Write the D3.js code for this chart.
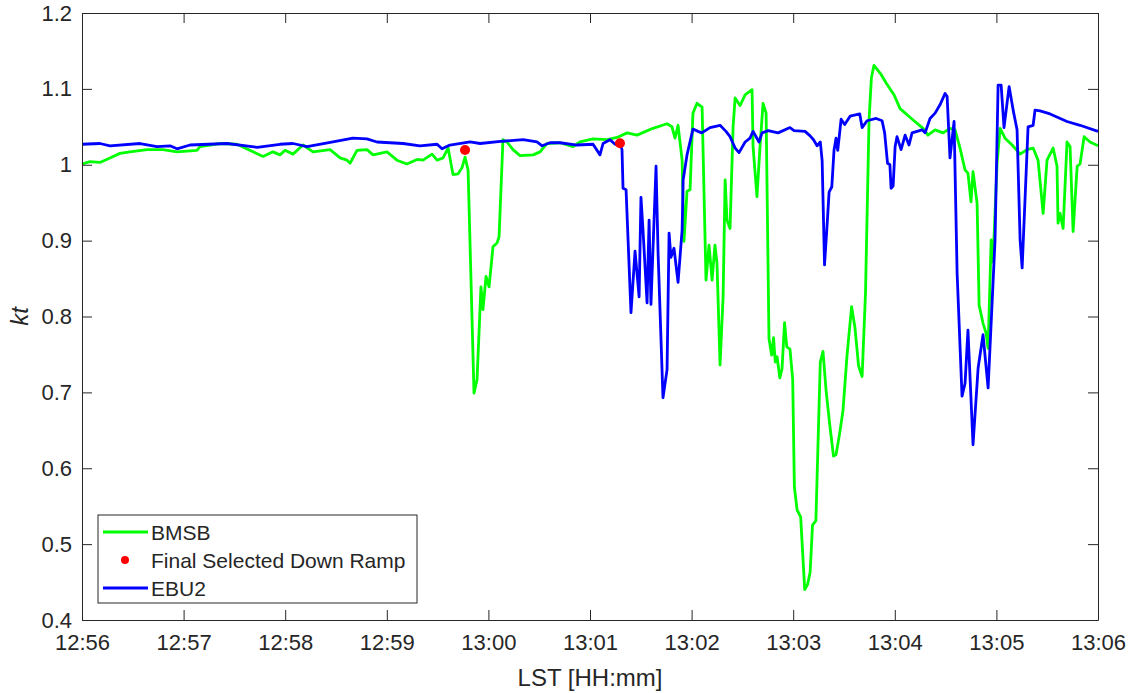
<!DOCTYPE html>
<html>
<head>
<meta charset="utf-8">
<script src="https://cdn.jsdelivr.net/npm/d3@7"></script>
<style>
  body { margin: 0; background: #fff; }
  text { font-family: "Liberation Sans", Arial, sans-serif; fill: #262626; }
</style>
</head>
<body>
<script>
// seconds after 12:56:00 and clearness index kt
var bmsbTime = [0, 4.7, 10.6, 16.5, 22.4, 28.3, 38.4, 47.8, 56.1, 67.9, 69.7, 81.5, 91.5, 101.0, 106.9, 112.8, 116.9, 119.9, 124.6, 130.5,
  136.4, 146.5, 152.4, 156.5, 158.3, 162.4, 168.3, 171.9, 180.1, 186.0, 191.9, 197.9, 201.4, 206.7, 209.7, 213.2, 216.2, 219.1, 222.1, 224.4,
  226.2, 228.0, 231.5, 233.3, 235.6, 236.8, 238.6, 240.4, 242.7, 245.1, 246.3, 248.6, 251.0, 254.5, 258.7, 266.4, 270.5, 274.6, 282.3, 290.0,
  294.1, 301.8, 310.1, 316.0, 321.9, 327.8, 337.2, 345.5, 348.4, 350.2, 352.0, 354.4, 355.5, 357.3, 359.1, 360.8, 363.2, 366.2, 368.5, 370.3,
  372.1, 373.8, 375.0, 376.8, 378.6, 379.8, 380.9, 382.7, 384.5, 385.7, 388.6, 391.6, 395.7, 396.3, 398.6, 400.4, 402.2, 404.0, 405.7, 407.3,
  408.4, 409.4, 410.5, 412.1, 413.4, 414.9, 416.2, 418.1, 419.7, 420.7, 422.3, 424.4, 426.8, 428.5, 430.0, 431.4, 433.4, 436.0, 437.6, 439.4,
  441.6, 443.8, 445.3, 447.3, 449.4, 451.8, 454.5, 456.5, 458.6, 460.7, 462.7, 464.8, 466.2, 467.7, 471.9, 474.8, 479.6, 483.1, 490.8, 496.7,
  499.6, 503.8, 508.5, 512.6, 515.6, 518.5, 521.5, 523.2, 525.0, 526.2, 528.6, 529.8, 532.1, 533.9, 535.1, 536.9, 538.0, 540.4, 542.2, 545.1,
  549.3, 554.0, 558.1, 561.7, 564.6, 567.6, 569.9, 573.5, 575.8, 576.4, 577.6, 579.4, 581.7, 583.5, 585.3, 587.7, 589.4, 591.8, 595.3, 600];
var bmsbKt = [1.001, 1.004, 1.003, 1.009, 1.015, 1.017, 1.020, 1.020, 1.017, 1.019, 1.024, 1.028, 1.027, 1.017, 1.011, 1.017, 1.013, 1.019, 1.014, 1.026,
  1.017, 1.020, 1.009, 1.006, 1.002, 1.019, 1.020, 1.013, 1.017, 1.006, 1.001, 1.007, 1.006, 1.014, 1.006, 1.009, 1.022, 0.987, 0.988, 0.996,
  1.010, 0.993, 0.699, 0.717, 0.839, 0.809, 0.853, 0.839, 0.892, 0.897, 0.905, 1.033, 1.030, 1.020, 1.012, 1.013, 1.017, 1.028, 1.029, 1.024,
  1.030, 1.034, 1.033, 1.036, 1.042, 1.039, 1.048, 1.054, 1.050, 1.035, 1.052, 1.006, 0.899, 0.965, 0.967, 1.068, 1.081, 1.076, 0.848, 0.894,
  0.848, 0.894, 0.870, 0.736, 0.826, 0.980, 0.927, 0.916, 1.050, 1.088, 1.078, 1.092, 1.099, 1.024, 0.958, 1.024, 1.081, 1.068, 0.771, 0.749,
  0.772, 0.740, 0.747, 0.719, 0.731, 0.792, 0.760, 0.757, 0.717, 0.575, 0.545, 0.536, 0.440, 0.447, 0.463, 0.525, 0.531, 0.740, 0.754, 0.703,
  0.657, 0.616, 0.618, 0.644, 0.676, 0.749, 0.813, 0.785, 0.735, 0.721, 0.831, 1.060, 1.115, 1.131, 1.119, 1.108, 1.092, 1.074, 1.059, 1.048,
  1.039, 1.046, 1.042, 1.048, 1.046, 1.022, 0.993, 0.989, 0.951, 0.991, 0.949, 0.815, 0.791, 0.778, 0.758, 0.901, 0.872, 1.002, 1.048, 1.035,
  1.026, 1.014, 1.020, 1.022, 1.006, 0.936, 1.006, 1.022, 0.998, 0.923, 0.936, 0.916, 1.030, 1.024, 0.912, 0.998, 1.001, 1.037, 1.030, 1.025];

var ebu2Time = [0, 10.6, 16.5, 34.3, 44.3, 52.0, 56.1, 63.8, 85.6, 103.4, 116.9, 124.6, 132.9, 148.2, 160.0, 168.3, 174.2, 189.6, 199.6, 209.7,
  212.6, 217.3, 229.2, 235.1, 248.6, 260.5, 268.7, 271.7, 276.4, 282.3, 292.3, 301.8, 305.9, 307.7, 311.8, 314.8, 317.7, 318.9, 319.5, 321.3,
  324.2, 326.6, 329.0, 330.1, 331.3, 333.7, 334.9, 336.0, 339.0, 340.2, 343.1, 345.5, 346.7, 347.8, 349.6, 352.0, 354.4, 355.0, 357.3, 360.8,
  363.8, 366.0, 370.9, 376.8, 380.3, 382.7, 385.7, 388.0, 391.6, 394.5, 396.3, 399.8, 401.6, 405.2, 411.1, 418.1, 420.5, 427.0, 430.0, 432.0,
  434.1, 436.0, 437.1, 438.5, 440.2, 441.2, 442.8, 444.1, 445.3, 446.3, 448.3, 450.4, 453.6, 459.3, 460.7, 463.6, 469.0, 472.5, 474.0, 475.7,
  477.1, 477.8, 479.0, 480.2, 481.3, 483.7, 486.1, 488.4, 490.2, 496.1, 497.9, 500.8, 503.8, 506.7, 509.7, 510.9, 512.6, 515.0, 516.8, 519.7,
  521.5, 523.2, 526.2, 529.2, 532.1, 535.1, 539.2, 541.0, 542.8, 544.5, 547.5, 549.9, 552.2, 554.0, 555.2, 556.9, 558.7, 561.7, 562.8, 565.8,
  571.7, 581.7, 589.4, 600];
var ebu2Kt = [1.027, 1.028, 1.025, 1.028, 1.024, 1.025, 1.021, 1.026, 1.028, 1.023, 1.027, 1.028, 1.024, 1.030, 1.035, 1.034, 1.030, 1.028, 1.025, 1.027,
  1.021, 1.026, 1.030, 1.028, 1.031, 1.033, 1.030, 1.025, 1.029, 1.029, 1.026, 1.027, 1.013, 1.028, 1.033, 1.027, 1.028, 1.020, 0.969, 0.967,
  0.805, 0.886, 0.826, 0.957, 0.914, 0.818, 0.927, 0.816, 0.998, 0.884, 0.693, 0.730, 0.910, 0.878, 0.890, 0.845, 0.914, 0.980, 1.013, 1.047,
  1.044, 1.042, 1.049, 1.052, 1.044, 1.037, 1.022, 1.016, 1.030, 1.035, 1.044, 1.030, 1.042, 1.045, 1.042, 1.049, 1.045, 1.044, 1.038, 1.033,
  1.025, 1.030, 1.005, 0.868, 0.927, 0.964, 0.971, 1.019, 1.035, 1.019, 1.060, 1.053, 1.064, 1.067, 1.049, 1.058, 1.061, 1.058, 1.042, 1.002,
  1.000, 0.969, 0.972, 1.024, 1.037, 1.020, 1.039, 1.026, 1.042, 1.046, 1.042, 1.061, 1.068, 1.079, 1.094, 1.090, 1.009, 1.057, 0.857, 0.695,
  0.712, 0.782, 0.631, 0.732, 0.776, 0.706, 0.901, 1.105, 1.105, 1.049, 1.103, 1.072, 1.046, 0.901, 0.864, 0.954, 1.050, 1.052, 1.072, 1.071,
  1.067, 1.057, 1.052, 1.044];

var rampTime = [226.2, 317.7];
var rampKt = [1.0195, 1.0283];

var yTicks = [0.4, 0.5, 0.6, 0.7, 0.8, 0.9, 1, 1.1, 1.2];
var legendNames = ["BMSB", "Final Selected Down Ramp", "EBU2"];

var width = 1133, height = 693;
var margin = {left: 82, right: 35, top: 13, bottom: 73};
var t0 = new Date(2000, 0, 1, 12, 56, 0);
function toDate(s) { return new Date(t0.getTime() + s * 1000); }

var svg = d3.select("body").append("svg")
  .attr("width", width)
  .attr("height", height);

var x = d3.scaleTime()
  .domain([toDate(0), toDate(600)])
  .range([margin.left, width - margin.right]);
var y = d3.scaleLinear()
  .domain([0.4, 1.2])
  .range([height - margin.bottom, margin.top]);

var bmsb = bmsbTime.map(function (t, i) { return {t: toDate(t), v: bmsbKt[i]}; });
var ebu2 = ebu2Time.map(function (t, i) { return {t: toDate(t), v: ebu2Kt[i]}; });
var ramps = rampTime.map(function (t, i) { return {t: toDate(t), v: rampKt[i]}; });

var line = d3.line()
  .x(function (d) { return x(d.t); })
  .y(function (d) { return y(d.v); });

svg.append("path").datum(bmsb)
  .attr("d", line)
  .style("fill", "none").style("stroke", "#00ff00")
  .style("stroke-width", 2.8).style("stroke-linejoin", "round");

svg.append("path").datum(ebu2)
  .attr("d", line)
  .style("fill", "none").style("stroke", "#0000ff")
  .style("stroke-width", 2.8).style("stroke-linejoin", "round");

svg.selectAll("circle.ramp")
  .data(ramps)
  .enter()
  .append("circle")
  .attr("class", "ramp")
  .attr("cx", function (d) { return x(d.t); })
  .attr("cy", function (d) { return y(d.v); })
  .attr("r", 5)
  .style("fill", "#ff0000");

// axes, matlab style: ticks inside, box all round
var fmt = d3.timeFormat("%H:%M");
var xAxis = d3.axisBottom(x).ticks(d3.timeMinute.every(1)).tickFormat(fmt)
  .tickSizeInner(-10).tickSizeOuter(0).tickPadding(14);
var xTop = d3.axisTop(x).ticks(d3.timeMinute.every(1)).tickFormat("")
  .tickSizeInner(-10).tickSizeOuter(0);
var yAxis = d3.axisLeft(y).tickValues(yTicks).tickFormat(d3.format("~g"))
  .tickSizeInner(-10).tickSizeOuter(0).tickPadding(10);
var yRight = d3.axisRight(y).tickValues(yTicks).tickFormat("")
  .tickSizeInner(-10).tickSizeOuter(0);

function styleAxis(g) {
  g.selectAll("path, line").style("stroke", "#262626").style("stroke-width", 1);
  g.selectAll("text").style("font-size", "22px").style("fill", "#262626")
    .style("font-family", "'Liberation Sans', Arial, sans-serif");
}

svg.append("g").attr("transform", "translate(0," + (height - margin.bottom) + ")").call(xAxis).call(styleAxis);
svg.append("g").attr("transform", "translate(0," + margin.top + ")").call(xTop).call(styleAxis);
svg.append("g").attr("transform", "translate(" + margin.left + ",0)").call(yAxis).call(styleAxis);
svg.append("g").attr("transform", "translate(" + (width - margin.right) + ",0)").call(yRight).call(styleAxis);

svg.append("text")
  .attr("x", (margin.left + width - margin.right) / 2)
  .attr("y", 686)
  .attr("text-anchor", "middle")
  .style("font-size", "24px")
  .text("LST [HH:mm]");

svg.append("text")
  .attr("transform", "translate(28," + ((margin.top + height - margin.bottom) / 2) + ") rotate(-90)")
  .attr("text-anchor", "middle")
  .style("font-size", "24px")
  .style("font-style", "italic")
  .text("kt");

// legend
var lg = svg.append("g").attr("transform", "translate(98,515)");
lg.append("rect")
  .attr("width", 319).attr("height", 88)
  .style("fill", "#fff").style("stroke", "#262626").style("stroke-width", 1);

var rowY = [17, 45, 73];
lg.selectAll("text.lab")
  .data(legendNames)
  .enter()
  .append("text")
  .attr("class", "lab")
  .attr("x", 53)
  .attr("y", function (d, i) { return rowY[i] + 7.5; })
  .style("font-size", "21px")
  .text(function (d) { return d; });

lg.append("line").attr("x1", 5).attr("x2", 50).attr("y1", rowY[0]).attr("y2", rowY[0])
  .style("stroke", "#00ff00").style("stroke-width", 2.8);
lg.append("circle").attr("cx", 27).attr("cy", rowY[1]).attr("r", 4)
  .style("fill", "#ff0000");
lg.append("line").attr("x1", 5).attr("x2", 50).attr("y1", rowY[2]).attr("y2", rowY[2])
  .style("stroke", "#0000ff").style("stroke-width", 2.8);
</script>
</body>
</html>
